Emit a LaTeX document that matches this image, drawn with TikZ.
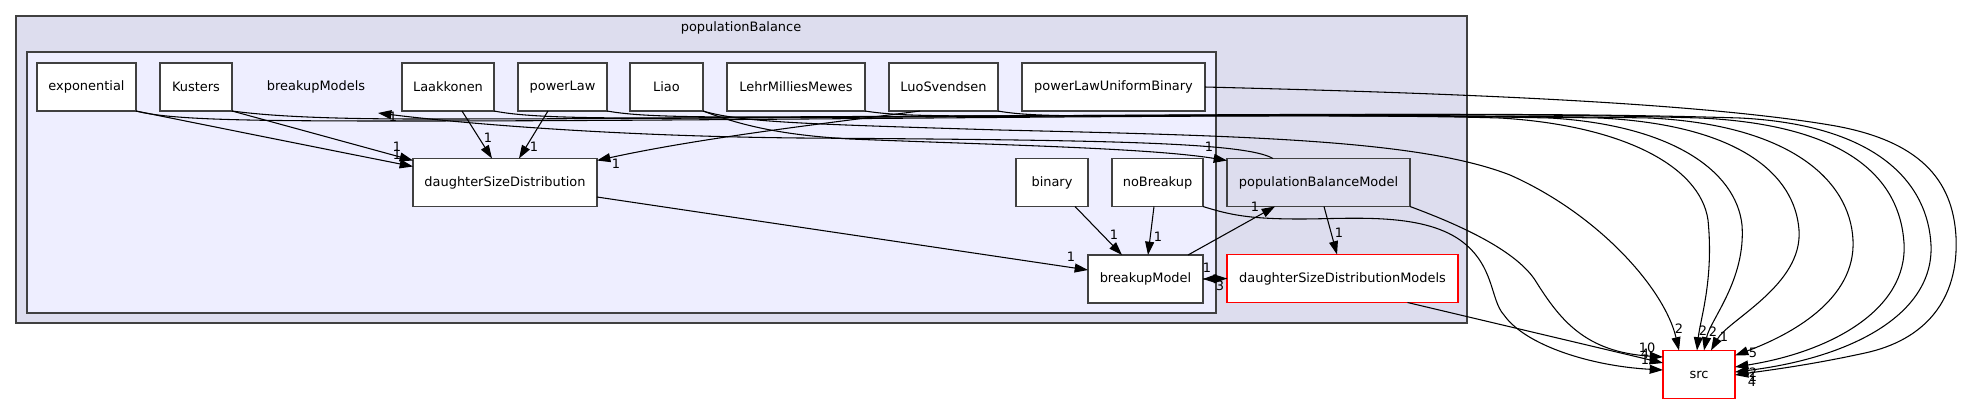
\documentclass[tikz,border=0pt]{standalone}
\usepackage{fontspec}
\setmainfont{DejaVu Sans}
\usetikzlibrary{arrows.meta,calc}
\definecolor{outerfill}{HTML}{DDDDEE}
\definecolor{innerfill}{HTML}{EEEEFF}
\definecolor{frame}{HTML}{404040}
\begin{document}
\begin{tikzpicture}[x=0.75pt,y=-0.75pt,
  every node/.style={font=\fontsize{9.7pt}{11pt}\selectfont, inner sep=0pt, outer sep=0pt},
  box/.style={draw=frame, fill=white, line width=1pt, minimum height=36pt},
  redbox/.style={box, draw=red},
  dirbox/.style={box, fill=outerfill},
  cluster/.style={draw=frame, line width=1.2pt},
  lbl/.style={text=black},
  dep/.style={draw=black, line width=0.8pt, -{Triangle[length=10pt,width=6.7pt]}},
]
\useasboundingbox (0,0) rectangle (1961,404);

% clusters
\path[cluster, fill=outerfill] (16,16) rectangle (1467,323);
\path[cluster, fill=innerfill] (27,52) rectangle (1216,313);
\node (pbtitle) at (741,28) {populationBalance};
\node[minimum width=93pt, minimum height=36pt] (bmlabel) at (316,87) {breakupModels};

% top row
\node[box, minimum width=74.25pt] (exponential) at (86.5,87) {exponential};
\node[box, minimum width=54pt] (Kusters) at (196,87) {Kusters};
\node[box, minimum width=69pt] (Laakkonen) at (448,87) {Laakkonen};
\node[box, minimum width=66.75pt] (powerLaw) at (562.5,87) {powerLaw};
\node[box, minimum width=54.75pt] (Liao) at (666.5,87) {Liao};
\node[box, minimum width=103.5pt] (LMM) at (796,87) {LehrMilliesMewes};
\node[box, minimum width=81.75pt] (LuoSvendsen) at (943.5,87) {LuoSvendsen};
\node[box, minimum width=137.25pt] (pLUB) at (1113.5,87) {powerLawUniformBinary};

% middle row
\node[box, minimum width=138pt] (dSD) at (505,182.5) {daughterSizeDistribution};
\node[box, minimum width=54pt] (binary) at (1052,182.5) {binary};
\node[box, minimum width=68.25pt] (noBreakup) at (1157.5,182.5) {noBreakup};
\node[dirbox, minimum width=137.25pt] (pBM) at (1318.5,182.5) {populationBalanceModel};

% bottom row
\node[box, minimum width=86.25pt] (breakupModel) at (1145.5,279) {breakupModel};
\node[redbox, minimum width=173.25pt] (dSDM) at (1342.5,278.5) {daughterSizeDistributionModels};
\node[redbox, minimum width=54pt, minimum height=36pt] (src) at (1699,374.5) {src};

% edges into daughterSizeDistribution
\draw[dep] (exponential.south east) .. controls (200,124) and (330,150) .. ($(dSD.north west)+(0,8)$);
\draw[dep] (Kusters.south east) -- ($(dSD.north west)+(0,2)$);
\draw[dep] ($(Laakkonen.south)+(14,0)$) -- ($(dSD.north)+(-13,0)$);
\draw[dep] ($(powerLaw.south)+(-14.5,0)$) -- ($(dSD.north)+(14,0)$);
\draw[dep] ($(LuoSvendsen.south)+(-23.5,0)$) .. controls (820,124) and (700,138) .. ($(dSD.north east)+(0,2)$);

% populationBalanceModel -> breakupModels
\draw[dep] ($(pBM.north)+(-45.5,0)$) .. controls (1245,142) and (1100,140) .. (800,138) .. controls (600,136) and (450,122) .. ($(bmlabel.south east)+(0,2)$);
% Liao -> populationBalanceModel
\draw[dep] (Liao.south east) .. controls (740,125) and (780,135) .. (850,139) .. controls (1000,145) and (1150,148) .. ($(pBM.north west)+(0,2)$);

% lower edges
\draw[dep] ($(dSD.east)+(0,14.5)$) -- ($(breakupModel.west)+(0,-9)$);
\draw[dep] ($(binary.south)+(23,0)$) -- ($(breakupModel.north)+(-23.5,0)$);
\draw[dep] ($(noBreakup.south)+(-3.5,0)$) -- ($(breakupModel.north)+(2.5,0)$);
\draw[dep] ($(breakupModel.north)+(42.5,0)$) -- ($(pBM.south)+(-43.5,0)$);
\draw[dep] ($(pBM.south)+(5.5,0)$) -- ($(dSDM.north)+(-5.5,0)$);
\draw[dep] (breakupModel.east) -- (dSDM.west);
\draw[dep] (dSDM.west) -- (breakupModel.east);

% edges into src from the cluster
\draw[dep] (noBreakup.south east) .. controls (1230,215) and (1250,219) .. (1300,219) .. controls (1350,219) and (1420,212) .. (1460,240) .. controls (1495,265) and (1490,300) .. (1504,315) .. controls (1525,345) and (1590,366) .. ($(src.west)+(0,-4.5)$);
\draw[dep] (pBM.south east) .. controls (1460,225) and (1515,250) .. (1535,280) .. controls (1560,320) and (1585,352) .. ($(src.west)+(0,-17.5)$);
\draw[dep] ($(dSDM.south)+(65,0)$) -- ($(src.west)+(0,-11.5)$);

% long edges into src
\draw[dep] (Liao.south east) .. controls (740,122) and (800,124) .. (1000,130) .. controls (1250,136) and (1420,140) .. (1510,175) .. controls (1600,215) and (1665,290) .. ($(src.north)+(-20,0)$);
\draw[dep] (exponential.south east) .. controls (170,120) and (250,121) .. (400,121) .. controls (800,121) and (1300,112) .. (1500,118) .. controls (1620,125) and (1700,165) .. (1708,220) .. controls (1714,280) and (1700,320) .. ($(src.north)+(-2,0)$);
\draw[dep] (Kusters.south east) .. controls (255,114) and (300,119) .. (420,119) .. controls (800,119) and (1300,112) .. (1550,118) .. controls (1670,125) and (1736,170) .. (1742,225) .. controls (1746,280) and (1710,320) .. ($(src.north)+(5,0)$);
\draw[dep] (Laakkonen.south east) .. controls (520,116) and (560,118) .. (650,118) .. controls (900,117) and (1300,113) .. (1600,118) .. controls (1740,125) and (1795,175) .. (1799,230) .. controls (1803,285) and (1728,320) .. ($(src.north)+(12,0)$);
\draw[dep] (powerLaw.south east) .. controls (630,115) and (660,117) .. (750,117) .. controls (1000,116) and (1350,113) .. (1650,118) .. controls (1790,125) and (1850,180) .. (1853,240) .. controls (1856,300) and (1790,335) .. ($(src.north east)+(0,5)$);
\draw[dep] (LMM.south east) .. controls (890,115) and (920,116) .. (1000,116) .. controls (1200,115) and (1500,112) .. (1700,118) .. controls (1850,125) and (1900,180) .. (1904,243) .. controls (1908,310) and (1830,352) .. ($(src.east)+(0,-7.5)$);
\draw[dep] (LuoSvendsen.south east) .. controls (1020,115) and (1050,116) .. (1120,116) .. controls (1300,115) and (1550,112) .. (1740,118) .. controls (1880,125) and (1928,185) .. (1931,245) .. controls (1934,315) and (1850,358) .. ($(src.east)+(0,-2.5)$);
\draw[dep] (pLUB.east) .. controls (1400,92) and (1680,100) .. (1830,125) .. controls (1920,140) and (1953,180) .. (1956,237) .. controls (1959,300) and (1925,340) .. (1865,353) .. controls (1810,365) and (1770,370) .. ($(src.east)+(0,0.5)$);

% edge labels
\node[lbl] (l01) at (397,147) {1};
\node[lbl] (l02) at (397,155) {1};
\node[lbl] (l03) at (393,117) {1};
\node[lbl] (l04) at (488,138) {1};
\node[lbl] (l05) at (534,147) {1};
\node[lbl] (l06) at (616,164) {1};
\node[lbl] (l07) at (1209,147) {1};
\node[lbl] (l08) at (1071,257) {1};
\node[lbl] (l09) at (1114,235) {1};
\node[lbl] (l10) at (1158,237) {1};
\node[lbl] (l11) at (1255,207) {1};
\node[lbl] (l12) at (1339,233) {1};
\node[lbl] (l13) at (1207,268) {1};
\node[lbl] (l14) at (1220,286) {3};
\node[lbl] (l15) at (1679,329) {2};
\node[lbl] (l16) at (1703,331) {2};
\node[lbl] (l17) at (1713,332) {2};
\node[lbl] (l18) at (1724,337) {1};
\node[lbl] (l19) at (1753,353) {5};
\node[lbl] (l20) at (1753,373) {2};
\node[lbl] (l21) at (1753,377) {1};
\node[lbl] (l22) at (1752,382) {4};
\node[lbl] (l23) at (1647,348) {10};
\node[lbl] (l24) at (1645,354) {4};
\node[lbl] (l25) at (1645,360) {1};
\end{tikzpicture}
\end{document}
